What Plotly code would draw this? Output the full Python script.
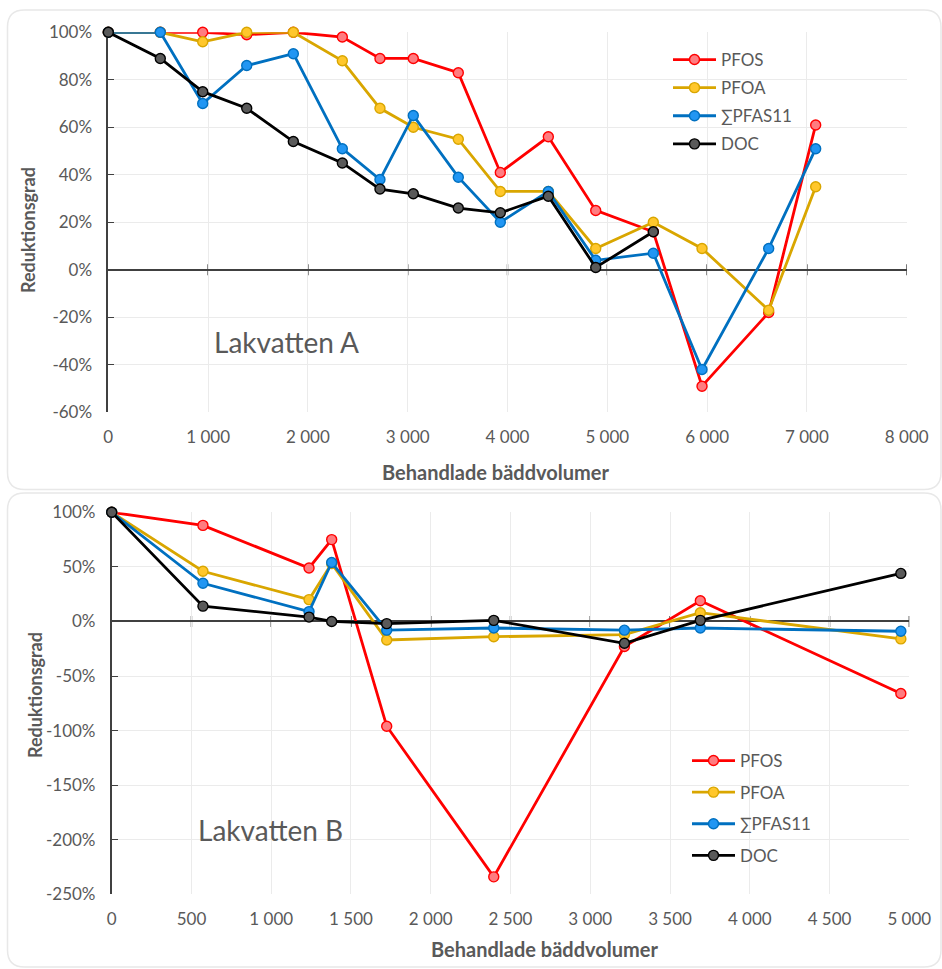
import plotly.graph_objects as go

# ---- Lakvatten A ----
bv_a = [0, 521, 946, 1387, 1854, 2345, 2722, 3056, 3507, 3928, 4409, 4884, 5461, 5949, 6617, 7088]
pfos_a = [100, 100, 100, 99, 100, 98, 89, 89, 83, 41, 56, 25, 16, -49, -18, 61]
pfoa_a = [100, 100, 96, 100, 100, 88, 68, 60, 55, 33, 33, 9, 20, 9, -17, 35]
pfas11_a = [100, 100, 70, 86, 91, 51, 38, 65, 39, 20, 33, 4, 7, -42, 9, 51]
doc_a = [100, 89, 75, 68, 54, 45, 34, 32, 26, 24, 31, 1, 16]

# ---- Lakvatten B ----
bv_b = [0, 572, 1237, 1379, 1724, 2395, 3214, 3690, 4947]
pfos_b = [100, 88, 49, 75, -96, -234, -23, 19, -66]
pfoa_b = [100, 46, 20, 53, -17, -14, -12, 8, -16]
pfas11_b = [100, 35, 9, 54, -8, -6, -8, -6, -9]
doc_b = [100, 14, 4, 0, -2, 1, -20, 1, 44]

series_names = ["PFOS", "PFOA", "\u2211PFAS11", "DOC"]

xticks_a = [0, 1000, 2000, 3000, 4000, 5000, 6000, 7000, 8000]
yticks_a = [-60, -40, -20, 0, 20, 40, 60, 80, 100]
xticks_b = [0, 500, 1000, 1500, 2000, 2500, 3000, 3500, 4000, 4500, 5000]
yticks_b = [-250, -200, -150, -100, -50, 0, 50, 100]

W, H = 942, 969
FONT = "Lato"
GREY = "#595959"
AXIS = "#404040"
GRID = "#EBEBEB"

styles = [
    dict(line="#FF0000", fill="#FF7C80"),
    dict(line="#D9A600", fill="#FFC72C"),
    dict(line="#0070C0", fill="#2196F3"),
    dict(line="#000000", fill="#5A5A5A"),
]


def px(x):
    return x / W


def py(y):
    return 1 - y / H


def thousands(v):
    return f"{v:,}".replace(",", " ")


fig = go.Figure()

panel_data = [
    ("x", "y", "legend", bv_a, [pfos_a, pfoa_a, pfas11_a, doc_a]),
    ("x2", "y2", "legend2", bv_b, [pfos_b, pfoa_b, pfas11_b, doc_b]),
]
for xa, ya, lg, xs, ys_list in panel_data:
    for i, (name, ys, st) in enumerate(zip(series_names, ys_list, styles)):
        fig.add_trace(go.Scatter(
            x=xs[:len(ys)], y=ys, name=name, mode="lines+markers",
            xaxis=xa, yaxis=ya, legend=lg, legendgroup=f"{lg}-{i}",
            line=dict(color=st["line"], width=2.8),
            marker=dict(size=10, color=st["fill"], line=dict(color=st["line"], width=1.4)),
            cliponaxis=False,
        ))

tickfont = dict(family=FONT, size=17, color=GREY)

def xaxis_cfg(domain, rng, ticks, anchor):
    return dict(domain=domain, range=rng, tickvals=ticks, ticktext=[thousands(t) for t in ticks],
                showgrid=True, gridcolor=GRID, gridwidth=1, zeroline=False, showline=False,
                ticks="", tickfont=tickfont, anchor=anchor, automargin=False,
                ticklabelstandoff=13, fixedrange=True)


def yaxis_cfg(domain, rng, ticks, anchor):
    return dict(domain=domain, range=rng, tickvals=ticks, ticktext=[f"{t}%" for t in ticks],
                showgrid=True, gridcolor=GRID, gridwidth=1, zeroline=True,
                zerolinecolor=AXIS, zerolinewidth=1.6, showline=True, linecolor=AXIS,
                linewidth=1.6, ticks="inside", ticklen=6, tickcolor=AXIS, tickwidth=1.4,
                tickfont=tickfont, anchor=anchor, automargin=False, layer="below traces",
                ticklabelstandoff=11, fixedrange=True)


top_x = [px(108.3), px(906.7)]
top_y = [py(412.3), py(32.3)]
bot_x = [px(111.7), px(909.3)]
bot_y = [py(894.3), py(512.3)]

fig.update_layout(
    width=W, height=H,
    margin=dict(l=0, r=0, t=0, b=0),
    paper_bgcolor="white", plot_bgcolor="rgba(0,0,0,0)",
    font=dict(family=FONT, color=GREY),
    xaxis=xaxis_cfg(top_x, [0, 8000], xticks_a, "y"),
    yaxis=yaxis_cfg(top_y, [-60, 100], yticks_a, "x"),
    xaxis2=xaxis_cfg(bot_x, [0, 5000], xticks_b, "y2"),
    yaxis2=yaxis_cfg(bot_y, [-250, 100], yticks_b, "x2"),
    legend=dict(x=px(668), y=py(42), xanchor="left", yanchor="top",
                font=dict(family=FONT, size=17, color=GREY), bgcolor="rgba(0,0,0,0)",
                traceorder="grouped", tracegroupgap=3, itemwidth=43),
    legend2=dict(x=px(687), y=py(743), xanchor="left", yanchor="top",
                 font=dict(family=FONT, size=17, color=GREY), bgcolor="rgba(0,0,0,0)",
                 traceorder="grouped", tracegroupgap=6.5, itemwidth=43),
)


def rounded_rect(x0, y0, x1, y1, r):
    pts = [
        f"M {px(x0 + r)} {py(y0)}",
        f"L {px(x1 - r)} {py(y0)}",
        f"Q {px(x1)} {py(y0)} {px(x1)} {py(y0 + r)}",
        f"L {px(x1)} {py(y1 - r)}",
        f"Q {px(x1)} {py(y1)} {px(x1 - r)} {py(y1)}",
        f"L {px(x0 + r)} {py(y1)}",
        f"Q {px(x0)} {py(y1)} {px(x0)} {py(y1 - r)}",
        f"L {px(x0)} {py(y0 + r)}",
        f"Q {px(x0)} {py(y0)} {px(x0 + r)} {py(y0)}",
        "Z",
    ]
    return " ".join(pts)


shapes = [
    dict(type="path", xref="paper", yref="paper", path=rounded_rect(7.5, 10, 941, 489.5, 17),
         line=dict(color="#E8E8E8", width=1.5), fillcolor="white", layer="below"),
    dict(type="path", xref="paper", yref="paper", path=rounded_rect(7.5, 493, 941, 967, 17),
         line=dict(color="#E8E8E8", width=1.5), fillcolor="white", layer="below"),
]
# cross tick marks on the zero line
for xr, yr, ticks in (("x", "y", xticks_a), ("x2", "y2", xticks_b)):
    for t in ticks[1:]:
        shapes.append(dict(type="line", xref=xr, yref=yr, x0=t, x1=t,
                           ysizemode="pixel", yanchor=0, y0=-5.5, y1=5.5,
                           line=dict(color=AXIS, width=1.4), layer="below"))
fig.update_layout(shapes=shapes)

ytitle_font = dict(family=FONT, size=18, color=GREY, weight="bold")
xtitle_font = dict(family=FONT, size=20, color=GREY, weight="bold")
annotations = [
    dict(text="Reduktionsgrad", x=px(28), y=py(230), textangle=-90, font=ytitle_font),
    dict(text="Behandlade bäddvolumer", x=px(495), y=py(472), font=xtitle_font),
    dict(text="Reduktionsgrad", x=px(35), y=py(695), textangle=-90, font=ytitle_font),
    dict(text="Behandlade bäddvolumer", x=px(544), y=py(949), font=xtitle_font),
    dict(text="Lakvatten A", x=px(286), y=py(342), font=dict(family=FONT, size=28, color=GREY)),
    dict(text="Lakvatten B", x=px(270), y=py(830), font=dict(family=FONT, size=28, color=GREY)),
]
for a in annotations:
    a.update(xref="paper", yref="paper", showarrow=False, xanchor="center", yanchor="middle")
fig.update_layout(annotations=annotations)

fig.write_html("out.html")
